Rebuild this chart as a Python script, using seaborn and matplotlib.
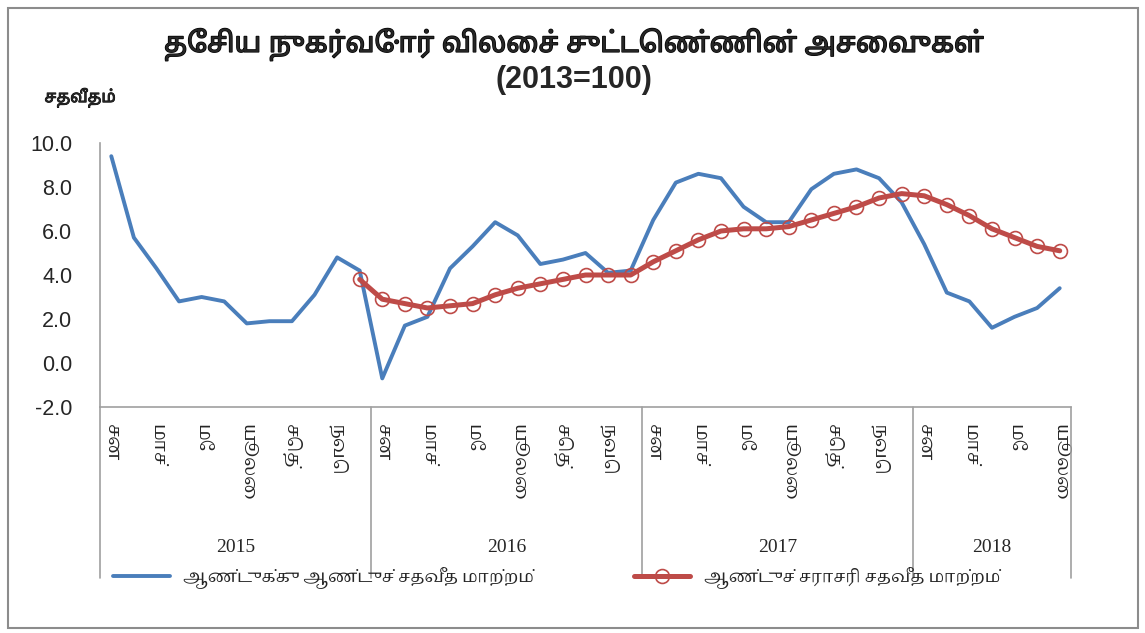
import seaborn as sns
import matplotlib.pyplot as plt
import matplotlib.patches as patches
import matplotlib.patheffects as pe
import matplotlib.transforms as mtransforms
import pandas as pd
from matplotlib import font_manager
from matplotlib.ft2font import FT2Font

# data: year-on-year (blue) from Jan 2015, annual average (red) from Dec 2015
yoy = [9.4, 5.7, 4.3, 2.8, 3.0, 2.8, 1.8, 1.9, 1.9, 3.1, 4.8, 4.2,
       -0.7, 1.7, 2.1, 4.3, 5.3, 6.4, 5.8, 4.5, 4.7, 5.0, 4.1, 4.2,
       6.5, 8.2, 8.6, 8.4, 7.1, 6.4, 6.4, 7.9, 8.6, 8.8, 8.4, 7.3,
       5.4, 3.2, 2.8, 1.6, 2.1, 2.5, 3.4]
avg = [3.8,
       2.9, 2.7, 2.5, 2.6, 2.7, 3.1, 3.4, 3.6, 3.8, 4.0, 4.0, 4.0,
       4.6, 5.1, 5.6, 6.0, 6.1, 6.1, 6.2, 6.5, 6.8, 7.1, 7.5, 7.7,
       7.6, 7.2, 6.7, 6.1, 5.7, 5.3, 5.1]
avg_start = 11
years = ['2015', '2016', '2017', '2018']
months_per_year = [12, 12, 12, 7]
month_labels = ['சன', 'மாச்', 'மே', 'யூலை', 'செத்', 'நவெ']

title1 = 'தேசிய நுகர்வோர் விலைச் சுட்டெண்ணின் அசைவுகள்'
title2 = '(2013=100)'
ylab = 'சதவீதம்'
name_yoy = 'ஆண்டுக்கு ஆண்டுச் சதவீத மாற்றம்'
name_avg = 'ஆண்டுச் சராசரி சதவீத மாற்றம்'


def tamil_fonts():
    found = []
    for f in font_manager.fontManager.ttflist:
        try:
            cmap = FT2Font(f.fname).get_charmap()
        except Exception:
            continue
        if 0x0BA4 in cmap and f.name not in found:
            found.append(f.name)
    return found


def pick(names, want):
    def score(n):
        s = 0
        if 'Tamil' in n:
            s -= 4
        if 'Mono' in n:
            s += 10
        if want in n:
            s -= 2
        return s
    return sorted(names, key=score)[:1]


tf = tamil_fonts()
sans = ['Liberation Sans'] + pick(tf, 'Sans') + ['DejaVu Sans']
serif = ['Liberation Serif'] + pick(tf, 'Serif') + ['DejaVu Serif']

sns.set_style('white')
plt.rcParams['font.family'] = sans

df1 = pd.DataFrame({'x': range(len(yoy)), 'y': yoy})
df2 = pd.DataFrame({'x': range(avg_start, avg_start + len(avg)), 'y': avg})

fig = plt.figure(figsize=(11.45, 6.33), dpi=100)
ax = fig.add_axes([100 / 1145, 1 - 407 / 633, 971 / 1145, 264 / 633])

sns.lineplot(data=df1, x='x', y='y', ax=ax, color='#4A7EBB', linewidth=2.8,
             label=name_yoy)
sns.lineplot(data=df2, x='x', y='y', ax=ax, color='#BE4B48', linewidth=3.6,
             marker='o', markersize=10, markerfacecolor='none',
             markeredgecolor='#BE4B48', markeredgewidth=1.2, label=name_avg)

n = len(yoy)
ax.set_xlim(-0.5, n - 0.5)
ax.set_ylim(-2, 10)
ax.set_yticks([-2, 0, 2, 4, 6, 8, 10])
ax.set_yticklabels([f'{v:.1f}' for v in [-2, 0, 2, 4, 6, 8, 10]],
                   fontsize=15.5, family=['Liberation Sans', 'DejaVu Sans'])
ax.tick_params(axis='y', length=0, pad=20)
ax.set_xlabel('')
ax.set_ylabel('')

# month labels every two months
pos = list(range(0, n, 2))
labs = [month_labels[(p % 12) // 2] for p in pos]
ax.set_xticks(pos)
ax.set_xticklabels(labs, rotation=270, fontsize=13, family=serif)
ax.tick_params(axis='x', length=0, pad=12)

for s in ['top', 'right']:
    ax.spines[s].set_visible(False)
for s in ['left', 'bottom']:
    ax.spines[s].set_color('#A0A0A0')
    ax.spines[s].set_linewidth(1.2)

# year groups
trans = mtransforms.blended_transform_factory(ax.transData, ax.transAxes)
edge = -0.5
bottom = -(578 - 407) / 264
for yr, m in zip(years, months_per_year):
    ax.plot([edge, edge], [0, bottom], transform=trans, color='#A0A0A0',
            linewidth=1.2, clip_on=False)
    ax.text(edge + m / 2, -(547 - 407) / 264, yr, transform=trans, ha='center',
            va='center', fontsize=14, family=['Liberation Serif', 'DejaVu Serif'])
    edge += m
ax.plot([edge, edge], [0, bottom], transform=trans, color='#A0A0A0',
        linewidth=1.2, clip_on=False)

ax.legend(loc='center', bbox_to_anchor=(0.47, -(578 - 407) / 264), ncol=2,
          frameon=False, handlelength=3.4, columnspacing=6.0,
          prop={'family': serif, 'size': 12})

# the Tamil font has no bold face, so thicken the strokes a little
fig.text(574 / 1145, 1 - 45 / 633, title1, ha='center', va='center',
         fontsize=20, fontweight='bold',
         path_effects=[pe.withStroke(linewidth=1.0, foreground='black')])
fig.text(574 / 1145, 1 - 80 / 633, title2, ha='center', va='center',
         fontsize=22, fontweight='bold')
fig.text(80 / 1145, 1 - 98 / 633, ylab, ha='center', va='center',
         fontsize=12, fontweight='bold',
         path_effects=[pe.withStroke(linewidth=0.6, foreground='black')])

fig.patches.append(patches.Rectangle((8 / 1145, 5 / 633), 1130 / 1145, 620 / 633,
                                     transform=fig.transFigure, fill=False,
                                     edgecolor='#8C8C8C', linewidth=1.5))

fig.savefig('out.png', dpi=100)
